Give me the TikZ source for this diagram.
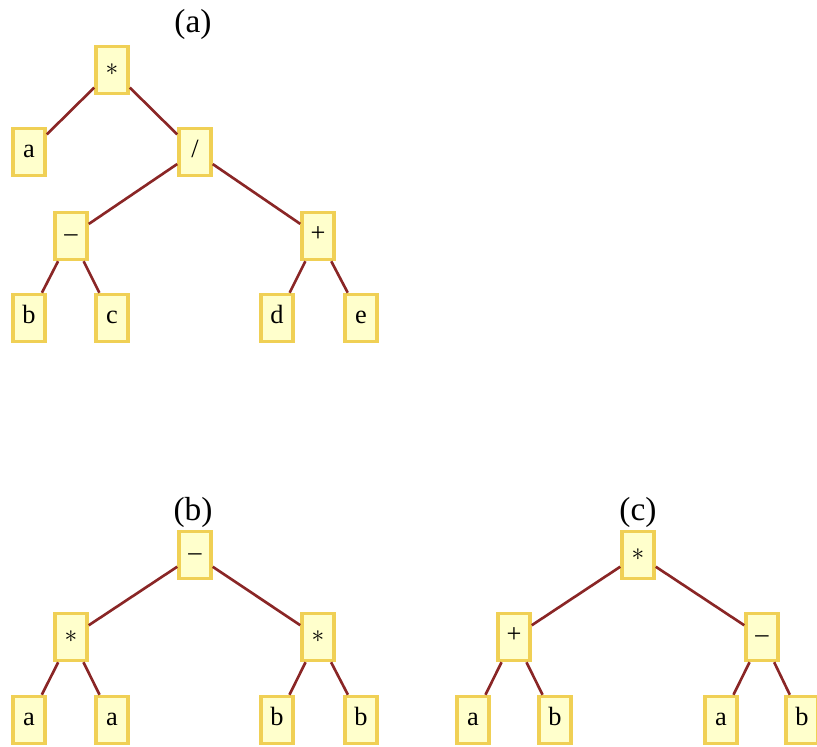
\documentclass[tikz,border=0pt]{standalone}
\usepackage{fontspec}
\setmainfont{Liberation Serif}
\definecolor{ETFill}{HTML}{FFFFCC}
\definecolor{ETBorder}{HTML}{F0D055}
\definecolor{ETEdge}{HTML}{8A2626}
\tikzset{
  opbox/.style={draw=ETBorder,fill=ETFill,line width=2pt,minimum width=0.64cm,minimum height=0.94cm,inner sep=0pt,text height=0.75em,text depth=0.1em,font=\fontsize{15}{17}\selectfont},
  branch/.style={ETEdge,line width=1.5pt},
  treelabel/.style={font=\fontsize{19}{21}\selectfont}
}
\begin{document}
\begin{tikzpicture}[x=1cm,y=1cm]
\path[use as bounding box] (0,0) rectangle (16.34,14.92);
% tree (a)
\node[treelabel] (labA) at (3.86,14.44) {(a)};
\node[opbox] (aMul) at (2.24,13.52) {$\ast$};
\node[opbox] (aA) at (0.58,11.88) {a};
\node[opbox] (aDiv) at (3.90,11.88) {/};
\node[opbox] (aSub) at (1.42,10.20) {–};
\node[opbox] (aAdd) at (6.36,10.20) {+};
\node[opbox] (aB) at (0.58,8.56) {b};
\node[opbox] (aC) at (2.24,8.56) {c};
\node[opbox] (aD) at (5.54,8.56) {d};
\node[opbox] (aE) at (7.22,8.56) {e};
\draw[branch] (aMul) -- (aA);
\draw[branch] (aMul) -- (aDiv);
\draw[branch] (aDiv) -- (aSub);
\draw[branch] (aDiv) -- (aAdd);
\draw[branch] (aSub) -- (aB);
\draw[branch] (aSub) -- (aC);
\draw[branch] (aAdd) -- (aD);
\draw[branch] (aAdd) -- (aE);
% tree (b)
\node[treelabel] (labB) at (3.86,4.68) {(b)};
\node[opbox] (bSub) at (3.90,3.82) {–};
\node[opbox] (bMulL) at (1.42,2.18) {$\ast$};
\node[opbox] (bMulR) at (6.36,2.18) {$\ast$};
\node[opbox] (bA1) at (0.58,0.52) {a};
\node[opbox] (bA2) at (2.24,0.52) {a};
\node[opbox] (bB1) at (5.54,0.52) {b};
\node[opbox] (bB2) at (7.22,0.52) {b};
\draw[branch] (bSub) -- (bMulL);
\draw[branch] (bSub) -- (bMulR);
\draw[branch] (bMulL) -- (bA1);
\draw[branch] (bMulL) -- (bA2);
\draw[branch] (bMulR) -- (bB1);
\draw[branch] (bMulR) -- (bB2);
% tree (c)
\node[treelabel] (labC) at (12.76,4.68) {(c)};
\node[opbox] (cMul) at (12.76,3.82) {$\ast$};
\node[opbox] (cAdd) at (10.28,2.18) {+};
\node[opbox] (cSub) at (15.24,2.18) {–};
\node[opbox] (cA1) at (9.46,0.52) {a};
\node[opbox] (cB1) at (11.10,0.52) {b};
\node[opbox] (cA2) at (14.42,0.52) {a};
\node[opbox] (cB2) at (16.04,0.52) {b};
\draw[branch] (cMul) -- (cAdd);
\draw[branch] (cMul) -- (cSub);
\draw[branch] (cAdd) -- (cA1);
\draw[branch] (cAdd) -- (cB1);
\draw[branch] (cSub) -- (cA2);
\draw[branch] (cSub) -- (cB2);
\end{tikzpicture}
\end{document}
